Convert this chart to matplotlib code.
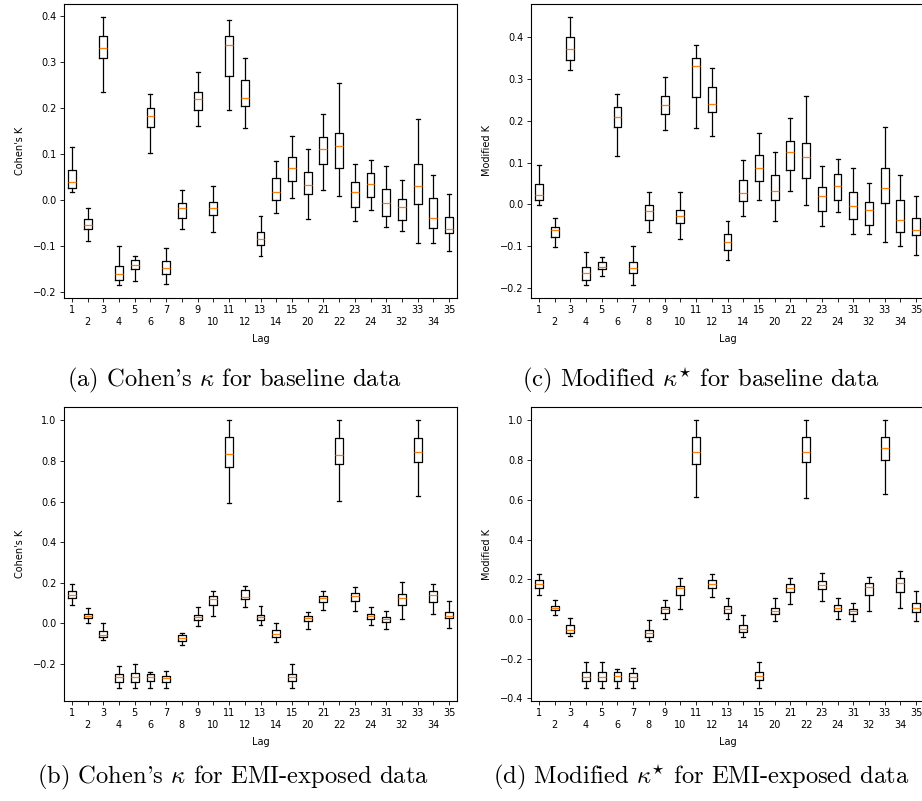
import matplotlib
matplotlib.use("Agg")
import matplotlib.pyplot as plt

lags = [1, 2, 3, 4, 5, 6, 7, 8, 9, 10, 11, 12, 13, 14, 15,
        20, 21, 22, 23, 24, 31, 32, 33, 34, 35]

# (a) Cohen's kappa, baseline
a_lo = [0.017, -0.089, 0.236, -0.183, -0.176, 0.102, -0.181, -0.062, 0.162, -0.069, 0.195, 0.157, -0.121,
        -0.027, 0.004, -0.040, 0.022, 0.009, -0.044, -0.022, -0.059, -0.067, -0.093, -0.093, -0.110]
a_q1 = [0.026, -0.062, 0.309, -0.172, -0.149, 0.159, -0.160, -0.038, 0.195, -0.031, 0.269, 0.205, -0.097,
        0.001, 0.041, 0.014, 0.078, 0.070, -0.015, 0.007, -0.033, -0.042, -0.008, -0.060, -0.072]
a_med = [0.040, -0.054, 0.330, -0.159, -0.141, 0.183, -0.147, -0.016, 0.219, -0.017, 0.336, 0.223, -0.084,
         0.017, 0.071, 0.033, 0.112, 0.118, 0.019, 0.036, -0.005, -0.014, 0.030, -0.038, -0.062]
a_q3 = [0.066, -0.040, 0.357, -0.143, -0.130, 0.200, -0.132, -0.005, 0.236, -0.004, 0.356, 0.260, -0.069,
        0.048, 0.093, 0.061, 0.137, 0.145, 0.040, 0.059, 0.024, 0.003, 0.078, 0.004, -0.037]
a_hi = [0.116, -0.017, 0.397, -0.100, -0.121, 0.231, -0.103, 0.022, 0.278, 0.031, 0.391, 0.309, -0.035,
        0.085, 0.140, 0.112, 0.188, 0.254, 0.078, 0.088, 0.075, 0.045, 0.176, 0.056, 0.014]

# (b) Cohen's kappa, EMI-exposed
b_lo = [0.090, 0.003, -0.082, -0.316, -0.316, -0.316, -0.316, -0.107, -0.013, 0.035, 0.595, 0.082, -0.010,
        -0.089, -0.316, -0.025, 0.066, 0.604, 0.063, -0.010, -0.028, 0.020, 0.630, 0.048, -0.020]
b_q1 = [0.123, 0.025, -0.069, -0.286, -0.286, -0.283, -0.286, -0.086, 0.018, 0.089, 0.771, 0.118, 0.016,
        -0.067, -0.283, 0.013, 0.104, 0.783, 0.113, 0.023, 0.008, 0.089, 0.794, 0.105, 0.025]
b_med = [0.141, 0.036, -0.056, -0.266, -0.266, -0.266, -0.270, -0.072, 0.031, 0.118, 0.836, 0.132, 0.033,
         -0.053, -0.266, 0.026, 0.125, 0.827, 0.133, 0.036, 0.023, 0.125, 0.845, 0.141, 0.039]
b_q3 = [0.160, 0.049, -0.035, -0.248, -0.245, -0.248, -0.257, -0.059, 0.044, 0.137, 0.916, 0.163, 0.043,
        -0.033, -0.248, 0.036, 0.137, 0.911, 0.151, 0.048, 0.033, 0.143, 0.911, 0.161, 0.058]
b_hi = [0.196, 0.074, 0.003, -0.209, -0.201, -0.238, -0.234, -0.046, 0.081, 0.160, 1.000, 0.183, 0.086,
        0.003, -0.201, 0.054, 0.160, 1.000, 0.179, 0.079, 0.059, 0.206, 1.000, 0.192, 0.109]

# (c) Modified kappa, baseline
c_lo = [-0.002, -0.102, 0.321, -0.192, -0.172, 0.115, -0.192, -0.065, 0.177, -0.083, 0.183, 0.163, -0.133,
        -0.027, 0.011, -0.041, 0.033, -0.002, -0.052, -0.018, -0.070, -0.070, -0.091, -0.100, -0.121]
c_q1 = [0.011, -0.078, 0.346, -0.180, -0.155, 0.185, -0.163, -0.038, 0.217, -0.045, 0.257, 0.221, -0.108,
        0.008, 0.055, 0.011, 0.082, 0.063, -0.015, 0.011, -0.036, -0.049, 0.002, -0.065, -0.074]
c_med = [0.022, -0.062, 0.371, -0.163, -0.151, 0.209, -0.153, -0.015, 0.237, -0.027, 0.331, 0.241, -0.090,
         0.027, 0.088, 0.033, 0.125, 0.112, 0.019, 0.044, -0.005, -0.014, 0.038, -0.037, -0.062]
c_q3 = [0.049, -0.054, 0.399, -0.150, -0.137, 0.233, -0.137, -0.002, 0.260, -0.014, 0.351, 0.280, -0.072,
        0.059, 0.118, 0.069, 0.151, 0.146, 0.041, 0.073, 0.029, 0.006, 0.087, 0.010, -0.033]
c_hi = [0.093, -0.033, 0.447, -0.114, -0.127, 0.264, -0.100, 0.030, 0.304, 0.030, 0.380, 0.327, -0.040,
        0.106, 0.170, 0.124, 0.206, 0.259, 0.092, 0.108, 0.088, 0.051, 0.186, 0.071, 0.021]

# (d) Modified kappa, EMI-exposed
d_lo = [0.121, 0.018, -0.087, -0.346, -0.346, -0.346, -0.346, -0.111, 0.002, 0.052, 0.613, 0.109, 0.002,
        -0.091, -0.346, -0.012, 0.077, 0.607, 0.089, 0.002, -0.012, 0.039, 0.630, 0.054, -0.010]
d_q1 = [0.158, 0.044, -0.071, -0.313, -0.313, -0.313, -0.313, -0.091, 0.030, 0.121, 0.780, 0.158, 0.029,
        -0.066, -0.309, 0.027, 0.134, 0.792, 0.150, 0.039, 0.027, 0.121, 0.798, 0.138, 0.037]
d_med = [0.175, 0.057, -0.055, -0.294, -0.294, -0.289, -0.294, -0.069, 0.049, 0.155, 0.842, 0.175, 0.050,
         -0.050, -0.289, 0.042, 0.155, 0.842, 0.170, 0.055, 0.039, 0.163, 0.859, 0.182, 0.054]
d_q3 = [0.195, 0.067, -0.029, -0.269, -0.269, -0.269, -0.274, -0.054, 0.059, 0.168, 0.918, 0.195, 0.066,
        -0.032, -0.266, 0.057, 0.175, 0.918, 0.193, 0.069, 0.049, 0.182, 0.918, 0.208, 0.082]
d_hi = [0.227, 0.094, 0.003, -0.218, -0.215, -0.254, -0.245, -0.007, 0.094, 0.205, 1.000, 0.227, 0.106,
        0.018, -0.215, 0.103, 0.207, 1.000, 0.230, 0.106, 0.079, 0.213, 1.000, 0.242, 0.141]

plt.rcParams["mathtext.fontset"] = "cm"
plt.rcParams["axes.linewidth"] = 0.8


def stats(lo, q1, med, q3, hi):
    return [dict(whislo=a, q1=b, med=c, q3=d, whishi=e, fliers=[])
            for a, b, c, d, e in zip(lo, q1, med, q3, hi)]


def panel(ax, st, ylabel):
    lw = 0.9
    ax.bxp(st, positions=range(1, len(lags) + 1), showfliers=False,
           boxprops=dict(color="black", linewidth=lw),
           whiskerprops=dict(color="black", linewidth=lw),
           capprops=dict(color="black", linewidth=lw),
           medianprops=dict(color="#ff7f0e", linewidth=lw))
    labels = [str(l) if i % 2 == 0 else "\n" + str(l) for i, l in enumerate(lags)]
    ax.set_xticks(range(1, len(lags) + 1))
    ax.set_xticklabels(labels)
    ax.tick_params(labelsize=7, length=2.8, width=0.6, pad=2.5)
    ax.set_xlabel("Lag", fontsize=7, labelpad=5)
    ax.set_ylabel(ylabel, fontsize=7, labelpad=6)


fig = plt.figure(figsize=(9.22, 8.01), dpi=100)
w, h = 393 / 922, 294 / 801
ax_a = fig.add_axes([64 / 922, 1 - 298 / 801, w, h])
ax_c = fig.add_axes([531 / 922, 1 - 298 / 801, w, h])
ax_b = fig.add_axes([64 / 922, 1 - 701 / 801, w, h])
ax_d = fig.add_axes([531 / 922, 1 - 701 / 801, w, h])

panel(ax_a, stats(a_lo, a_q1, a_med, a_q3, a_hi), "Cohen's K")
panel(ax_b, stats(b_lo, b_q1, b_med, b_q3, b_hi), "Cohen's K")
panel(ax_c, stats(c_lo, c_q1, c_med, c_q3, c_hi), "Modified K")
panel(ax_d, stats(d_lo, d_q1, d_med, d_q3, d_hi), "Modified K")

cap = dict(fontsize=17.7, family="cmr10", ha="center", va="center")
fig.text(234 / 922, 1 - 380 / 801, r"(a) Cohen's $\kappa$ for baseline data", **cap)
fig.text(701 / 922, 1 - 380 / 801, r"(c) Modified $\kappa^{\star}$ for baseline data", **cap)
fig.text(233 / 922, 1 - 777 / 801, r"(b) Cohen's $\kappa$ for EMI-exposed data", **cap)
fig.text(701 / 922, 1 - 777 / 801, r"(d) Modified $\kappa^{\star}$ for EMI-exposed data", **cap)

fig.savefig("out.png", dpi=100)
